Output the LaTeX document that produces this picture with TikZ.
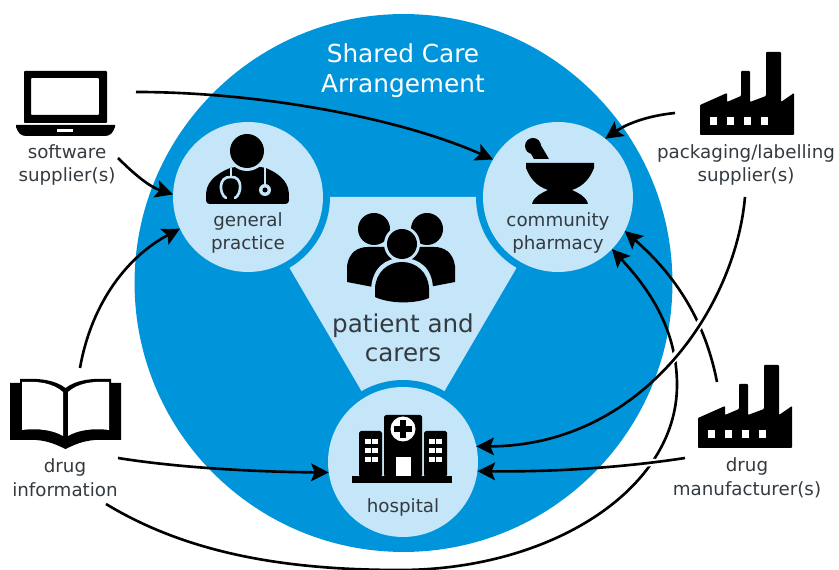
\documentclass[tikz,border=0pt]{standalone}
\usepackage{fontspec}
\setmainfont{DejaVu Sans}
\usetikzlibrary{arrows.meta}
\definecolor{careblue}{HTML}{0095DA}
\definecolor{carelight}{HTML}{C5E5F8}
\definecolor{caretext}{HTML}{333A40}
\tikzset{
	carecircle/.style={circle,fill=carelight,minimum size=3cm,inner sep=0pt,outer sep=0pt,preaction={draw=careblue,line width=0.28cm}},
	carelabel/.style={align=center,text=caretext,font=\fontsize{10.4}{13.6}\selectfont,inner sep=0pt},
	flow/.style={-{Stealth[length=10pt,width=10pt,inset=2pt]},line width=1.5pt,black},
	factoryicon/.pic={
		\fill[black,rounded corners=0.5pt] (700,135) -- (700,105) -- (727,93) -- (727,102) -- (741,96) -- (741,71) -- (750,71) -- (750,102) -- (766,96) -- (766,52) -- (781,52) -- (781,102) -- (794,93) -- (794,135) -- cycle;
		\foreach \winx in {710,727,744,761}
			\fill[white] (\winx,117) rectangle (\winx+7,125);
	}
}
\begin{document}
\begin{tikzpicture}[x=0.02cm,y=-0.02cm]
	\useasboundingbox (0,0) rectangle (839,570);
	\node[circle,fill=careblue,minimum size=10.76cm,inner sep=0pt] (shared) at (403.5,283) {};
	\fill[carelight] (248,197) -- (558,197) -- (403,462) -- cycle;
	\node[carecircle] (gp) at (248,197) {};
	\node[carecircle] (cp) at (558,197) {};
	\node[carecircle] (hosp) at (403,462) {};

	\node[align=center,text=white,font=\fontsize{14.1}{17}\selectfont,inner sep=0pt] (title) at (403,71) {Shared Care\\Arrangement};
	\node[align=center,text=caretext,font=\fontsize{14}{16.4}\selectfont,inner sep=0pt] (patient) at (403,338) {patient and\\carers};
	\node[carelabel] (gptext) at (248,233) {general\\practice};
	\node[carelabel] (cptext) at (558,233) {community\\pharmacy};
	\node[carelabel] (hosptext) at (403,507) {hospital};
	\node[carelabel] (softtext) at (67,165) {software\\supplier(s)};
	\node[carelabel] (packtext) at (746,165) {packaging/labelling\\supplier(s)};
	\node[carelabel] (infotext) at (65,478) {drug\\information};
	\node[carelabel] (manutext) at (747,478) {drug\\manufacturer(s)};

	% laptop
	\fill[black,even odd rule,rounded corners=0.5pt] (24,71) rectangle (107,123) (31,78) rectangle (99,115);
	\fill[black] (16,125) -- (115,125) -- (115,127) .. controls (113,133) and (110,136) .. (105,136) -- (26,136) .. controls (21,136) and (18,133) .. (16,127) -- cycle;
	\fill[white] (57,129) rectangle (73,132);

	% doctor
	\fill[black,rounded corners=2pt] (206,204) -- (206,196) .. controls (207,180) and (220,172) .. (233,167) -- (263,167) .. controls (276,172) and (288,180) .. (289,196) -- (289,204) -- cycle;
	\fill[carelight] (247,151) circle (20);
	\fill[black] (247,151) circle (17);
	\draw[carelight,line width=1.5pt] (231,168) -- (231,177);
	\draw[carelight,line width=1.5pt,line cap=round] (226,198) .. controls (219,194) and (218,176) .. (231,177) .. controls (243,176) and (242,194) .. (235,198);
	\draw[carelight,line width=1.5pt] (265,167) -- (265,185);
	\fill[carelight] (265,190) circle (6);
	\fill[black] (265,190) circle (2.5);

	% mortar and pestle
	\fill[black] (526,163) -- (594,163) -- (594,168) .. controls (590,178) and (584,186) .. (572,190) .. controls (578,193) and (586,196) .. (588,204) -- (532,204) .. controls (534,196) and (542,193) .. (548,190) .. controls (536,186) and (530,178) .. (526,168) -- cycle;
	\fill[black] (533,146) circle (8);
	\fill[black] (530,152) -- (539,142) -- (549,159) -- (534,159) -- cycle;

	\pic at (0,0) {factoryicon};
	\pic at (-2,313) {factoryicon};

	% book
	\fill[black] (10,383) -- (20,383) -- (20,379) .. controls (40,378) and (55,380) .. (65.5,388) .. controls (76,380) and (91,378) .. (111,379) -- (111,383) -- (121,383) -- (121,440) -- (95,440) .. controls (82,441) and (74,445) .. (65.5,449) .. controls (57,445) and (49,441) .. (36,440) -- (10,440) -- cycle;
	\fill[white] (22,382) .. controls (38,381) and (53,383) .. (63,392) -- (63,436) .. controls (53,430) and (38,428) .. (22,430) -- cycle;
	\fill[white] (109,382) .. controls (93,381) and (78,383) .. (68,392) -- (68,436) .. controls (78,430) and (93,428) .. (109,430) -- cycle;

	% hospital
	\fill[black] (352,476) rectangle (452,483);
	\fill[black,rounded corners=1pt] (384,477) -- (384,415) -- (422,415) -- (422,477) -- cycle;
	\fill[black,rounded corners=1pt] (359,477) -- (359,431) -- (382,431) -- (382,477) -- cycle;
	\fill[black,rounded corners=1pt] (424,477) -- (424,431) -- (447,431) -- (447,477) -- cycle;
	\fill[white] (396,457) rectangle (411,476);
	\fill[white] (403,429) circle (12.5);
	\fill[black] (400,420) rectangle (406,438);
	\fill[black] (394,426) rectangle (412,432);
	\foreach \winx in {365,372,429,436}
		\foreach \winy in {439,448,457}
			\fill[white] (\winx,\winy) rectangle (\winx+5.5,\winy+5.5);

	% people
	\fill[black] (374,229) circle (16);
	\fill[black] (427,229) circle (16);
	\fill[black] (347,282) -- (347,266) .. controls (349,252) and (358,247) .. (368,247) -- (395,247) -- (395,290) -- (373,287) -- cycle;
	\fill[black] (455,282) -- (455,266) .. controls (453,252) and (444,247) .. (434,247) -- (407,247) -- (407,290) -- (429,287) -- cycle;
	\fill[carelight] (402,244) circle (18);
	\fill[carelight] (371,306) -- (371,290) .. controls (372,268) and (385,258) .. (402,258) .. controls (419,258) and (433,268) .. (433,290) -- (433,306) -- cycle;
	\fill[black] (402,244) circle (15);
	\fill[black] (375,297) -- (375,288) .. controls (376,272) and (388,262) .. (402,262) .. controls (416,262) and (428,272) .. (429,288) -- (429,298) .. controls (415,304) and (390,304) .. (375,297) -- cycle;

	\coordinate (softA) at (136,92);
	\coordinate (softB) at (118,158);
	\coordinate (infoA) at (80,368);
	\coordinate (infoB) at (118,458);
	\coordinate (infoC) at (106,504);
	\coordinate (manuA) at (717,382);
	\coordinate (manuB) at (685,458);
	\coordinate (packA) at (675,113);
	\coordinate (packB) at (745,197);

	\draw[flow] (softA) .. controls (260,92) and (400,118) .. (cp.150);
	\draw[flow] (softB) .. controls (135,175) and (150,187) .. (gp.178);
	\draw[flow] (infoA) .. controls (92,300) and (130,255) .. (gp.205);
	\draw[flow] (infoB) .. controls (180,468) and (260,472) .. (hosp.188);
	\draw[flow] (infoC) .. controls (190,555) and (290,570) .. (400,570) .. controls (550,570) and (677,490) .. (677,385) .. controls (677,330) and (650,290) .. (cp.-44);
	\draw[flow] (manuA) .. controls (705,320) and (675,275) .. (cp.-27);
	\begin{scope}
		\clip (675,357) circle (9) (700,327) circle (9) (651,463) circle (6);
		\draw[white,line width=4.5pt] (packB) .. controls (735,310) and (640,446) .. (hosp.12);
		\draw[white,line width=4pt] (manuB) .. controls (620,468) and (550,472) .. (hosp.-7);
	\end{scope}
	\draw[flow] (packB) .. controls (735,310) and (640,446) .. (hosp.12);
	\draw[flow] (manuB) .. controls (620,468) and (550,472) .. (hosp.-7);
	\draw[flow] (packA) .. controls (645,116) and (625,125) .. (cp.51);
\end{tikzpicture}
\end{document}
